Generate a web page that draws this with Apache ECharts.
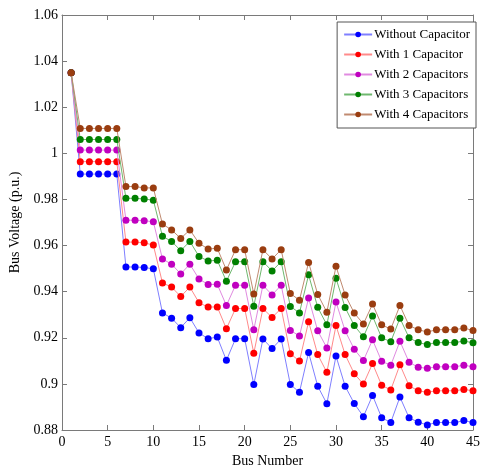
<!DOCTYPE html>
<html>
<head>
<meta charset="utf-8">
<script src="https://cdn.jsdelivr.net/npm/echarts@6/dist/echarts.min.js"></script>
<style>
html, body { margin: 0; padding: 0; background: #fff; }
#main { width: 483px; height: 473px; }
</style>
</head>
<body>
<div id="main"></div>
<script>
// bus numbers 1..45
var bus_number = [1,2,3,4,5,6,7,8,9,10,11,12,13,14,15,16,17,18,19,20,21,22,23,24,25,26,27,28,29,30,31,32,33,34,35,36,37,38,39,40,41,42,43,44,45];
var series_names = ["Without Capacitor", "With 1 Capacitor", "With 2 Capacitors", "With 3 Capacitors", "With 4 Capacitors"];

var without_capacitor = [1.035,0.991,0.991,0.991,0.991,0.991,0.9507,0.9507,0.9505,0.9499,0.9308,0.9285,0.9244,0.9287,0.9221,0.9196,0.9203,0.9102,0.9196,0.9196,0.8997,0.9195,0.9153,0.9195,0.8997,0.8964,0.9136,0.899,0.8914,0.9121,0.899,0.8915,0.8858,0.895,0.8853,0.8833,0.8943,0.8853,0.8834,0.8822,0.8833,0.8832,0.8832,0.8841,0.8832];
var with_1_capacitor = [1.035,0.9964,0.9964,0.9964,0.9964,0.9964,0.9615,0.9615,0.9612,0.9602,0.9438,0.942,0.9379,0.942,0.9352,0.9333,0.9334,0.9239,0.9327,0.9327,0.9133,0.9327,0.9288,0.9327,0.9131,0.9099,0.927,0.9127,0.905,0.9253,0.9127,0.9044,0.8999,0.9088,0.8994,0.8974,0.9083,0.8992,0.897,0.8964,0.897,0.897,0.897,0.8976,0.897];
var with_2_capacitors = [1.035,1.0014,1.0014,1.0014,1.0014,1.0014,0.971,0.971,0.9708,0.9703,0.9542,0.9519,0.9477,0.9519,0.9455,0.9431,0.9432,0.934,0.9428,0.9428,0.9235,0.9428,0.9386,0.9428,0.9232,0.9208,0.9372,0.923,0.9156,0.9355,0.923,0.915,0.9101,0.9191,0.9098,0.9081,0.9185,0.9094,0.9072,0.9068,0.9074,0.9074,0.9074,0.9081,0.9074];
var with_3_capacitors = [1.035,1.006,1.006,1.006,1.006,1.006,0.9805,0.9805,0.9802,0.9797,0.964,0.9618,0.9578,0.9618,0.9553,0.9533,0.9536,0.9445,0.953,0.953,0.9337,0.953,0.949,0.953,0.9336,0.9308,0.9473,0.9332,0.9256,0.9458,0.9331,0.9253,0.9204,0.9294,0.92,0.9183,0.9285,0.92,0.9179,0.9171,0.9179,0.9179,0.9179,0.9186,0.9178];
var with_4_capacitors = [1.035,1.0108,1.0108,1.0108,1.0108,1.0108,0.9856,0.9856,0.985,0.985,0.9693,0.9668,0.9631,0.9668,0.961,0.9585,0.9588,0.9494,0.9582,0.9582,0.939,0.9582,0.9542,0.9582,0.9392,0.9363,0.9527,0.9388,0.9311,0.951,0.9386,0.9307,0.926,0.9346,0.9256,0.9238,0.934,0.9253,0.9235,0.9225,0.9235,0.9235,0.9235,0.9242,0.9232];

var x_ticks_interval = 5;
var y_min = 0.88, y_max = 1.06, y_interval = 0.02;

var series_colors = ["#0000ff", "#ff0000", "#c000c0", "#008000", "#9a3d10"];
var line_colors = ["#7f7fff", "#ff8a8a", "#e08ae0", "#6fb86f", "#c08a70"];

function to_points(values){
	var pts = [];
	for(var i = 0; i < bus_number.length; i++){
		pts.push([bus_number[i], values[i]]);
	}
	return pts;
}

var all_values = [without_capacitor, with_1_capacitor, with_2_capacitors, with_3_capacitors, with_4_capacitors];
var series_list = [];
for(var k = 0; k < all_values.length; k++){
	series_list.push({
		name: series_names[k],
		type: "line",
		data: to_points(all_values[k]),
		symbol: "circle",
		symbolSize: 7,
		itemStyle: { color: series_colors[k] },
		lineStyle: { color: line_colors[k], width: 1 },
		emphasis: { disabled: true },
		animation: false,
		z: 2 + k
	});
}

var font = "Liberation Serif";
var axis_color = "#7a7a7a";

var myChart = echarts.init(document.getElementById("main"));
var option = {
	backgroundColor: "#fff",
	animation: false,
	grid: { left: 62, right: 6, top: 15, bottom: 42 },
	legend: {
		orient: "vertical",
		right: 7,
		top: 22,
		padding: [6, 6, 7, 6],
		itemGap: 7,
		itemWidth: 28,
		itemHeight: 7,
		backgroundColor: "#fff",
		borderColor: "#555",
		borderWidth: 1,
		textStyle: { fontFamily: font, fontSize: 13, color: "#000", padding: [0, 0, 0, -3] },
		data: series_names
	},
	xAxis: [{
		type: "value",
		min: 0,
		max: 45,
		interval: x_ticks_interval,
		name: "Bus Number",
		nameLocation: "middle",
		nameGap: 24,
		nameTextStyle: { fontFamily: font, fontSize: 14, color: "#000" },
		axisLine: { onZero: false, lineStyle: { color: axis_color } },
		axisTick: { inside: true, length: 5, lineStyle: { color: axis_color } },
		axisLabel: { fontFamily: font, fontSize: 14, color: "#000", margin: 5 },
		splitLine: { show: false }
	}, {
		type: "value",
		position: "top",
		min: 0,
		max: 45,
		interval: x_ticks_interval,
		axisLine: { show: true, onZero: false, lineStyle: { color: axis_color } },
		axisTick: { inside: true, length: 5, lineStyle: { color: axis_color } },
		axisLabel: { show: false },
		splitLine: { show: false }
	}],
	yAxis: [{
		type: "value",
		min: y_min,
		max: y_max,
		interval: y_interval,
		name: "Bus Voltage (p.u.)",
		nameLocation: "middle",
		nameGap: 38,
		nameTextStyle: { fontFamily: font, fontSize: 14, color: "#000" },
		axisLine: { show: true, onZero: false, lineStyle: { color: axis_color } },
		axisTick: { show: true, inside: true, length: 5, lineStyle: { color: axis_color } },
		axisLabel: { fontFamily: font, fontSize: 14, color: "#000", margin: 4 },
		splitLine: { show: false }
	}, {
		type: "value",
		position: "right",
		min: y_min,
		max: y_max,
		interval: y_interval,
		axisLine: { show: true, onZero: false, lineStyle: { color: axis_color } },
		axisTick: { show: true, inside: true, length: 5, lineStyle: { color: axis_color } },
		axisLabel: { show: false },
		splitLine: { show: false }
	}],
	series: series_list
};
myChart.setOption(option, true);
</script>
</body>
</html>
